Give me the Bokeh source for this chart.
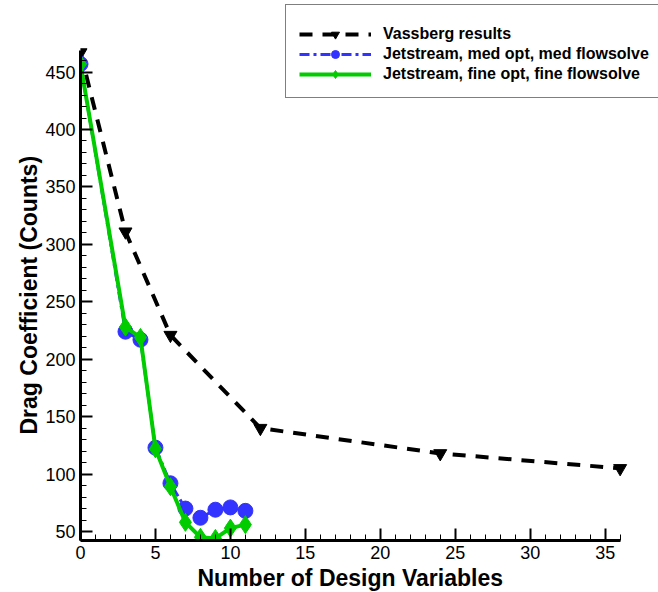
from bokeh.plotting import figure
from bokeh.models import FixedTicker, Legend, LegendItem, Title
from bokeh.embed import file_html
from bokeh.resources import INLINE

# Data
vass_x = [0, 3, 6, 12, 24, 36]
vass_y = [467, 311, 221, 140, 118, 105]

med_x = [0, 3, 4, 5, 6, 7, 8, 9, 10, 11]
med_y = [457, 224, 217, 123, 92, 70, 62, 69, 71, 68]

fine_x = [0, 3, 4, 5, 6, 7, 8, 9, 10, 11]
fine_y = [457, 228, 219, 122, 89, 58, 45, 44, 53, 56]

labels = ["Vassberg results",
          "Jetstream, med opt, med flowsolve",
          "Jetstream, fine opt, fine flowsolve"]
x_title = "Number of Design Variables"
y_title = "Drag Coefficient (Counts)"

x_major = [0, 5, 10, 15, 20, 25, 30, 35]
y_major = [50, 100, 150, 200, 250, 300, 350, 400, 450]

p = figure(width=658, height=592, x_range=(0, 38.56), y_range=(42.2, 512.3),
           output_backend="svg", toolbar_location=None,
           min_border_left=80, min_border_right=0,
           min_border_top=0, min_border_bottom=51)
p.outline_line_color = None
p.xgrid.visible = False
p.ygrid.visible = False

BLUE = "#3333ff"
GREEN = "#00cc00"

l1 = p.line(vass_x, vass_y, line_color="black", line_width=4, line_dash="13 10")
s1 = p.scatter(vass_x, vass_y, marker="inverted_triangle", size=13,
               fill_color="black", line_color="black")
l2 = p.line(med_x, med_y, line_color=BLUE, line_width=3, line_dash="10 4 3 4")
s2 = p.scatter(med_x, med_y, marker="circle", size=15,
               fill_color=BLUE, line_color=BLUE)
l3 = p.line(fine_x, fine_y, line_color=GREEN, line_width=4)
s3 = p.scatter(fine_x, fine_y, marker="diamond", size=18,
               fill_color=GREEN, line_color=GREEN)

for ax in (p.xaxis[0], p.yaxis[0]):
    ax.axis_line_width = 3
    ax.axis_line_color = "black"
    ax.major_tick_in = 12
    ax.major_tick_out = 0
    ax.minor_tick_in = 6
    ax.minor_tick_out = 0
    ax.major_tick_line_width = 2
    ax.minor_tick_line_width = 1
    ax.major_tick_line_color = "black"
    ax.minor_tick_line_color = "black"
    ax.major_label_text_font = "Liberation Sans"
    ax.major_label_text_font_size = "18px"
    ax.major_label_text_color = "black"

p.xaxis[0].bounds = (0, 36)
p.yaxis[0].bounds = (42.2, 469)
p.xaxis[0].ticker = FixedTicker(ticks=x_major, minor_ticks=list(range(0, 37)))
p.yaxis[0].ticker = FixedTicker(ticks=y_major, minor_ticks=list(range(50, 461, 10)))
p.xaxis[0].major_label_standoff = 5
p.yaxis[0].major_label_standoff = 5

xt = Title(text=x_title, align="left", offset=117, standoff=3,
           text_font="Liberation Sans", text_font_size="23px",
           text_font_style="bold", text_color="black")
yt = Title(text=y_title, align="left", offset=106, standoff=1,
           text_font="Liberation Sans", text_font_size="23px",
           text_font_style="bold", text_color="black")
p.add_layout(xt, "below")
p.add_layout(yt, "left")

legend = Legend(items=[
    LegendItem(label=labels[0], renderers=[l1, s1]),
    LegendItem(label=labels[1], renderers=[l2, s2]),
    LegendItem(label=labels[2], renderers=[l3, s3]),
], location=(205, 442))
legend.title = " "
legend.title_text_font_size = "6px"
legend.title_standoff = 0
legend.padding = 13
legend.spacing = 0
legend.glyph_width = 72
legend.glyph_height = 20
legend.label_height = 20
legend.label_standoff = 12
legend.label_text_font = "Liberation Sans"
legend.label_text_font_size = "16px"
legend.label_text_font_style = "bold"
legend.label_text_color = "black"
legend.border_line_color = "black"
legend.border_line_width = 1
legend.background_fill_alpha = 1
p.add_layout(legend, "center")

open("out.html", "w").write(file_html(p, INLINE))
